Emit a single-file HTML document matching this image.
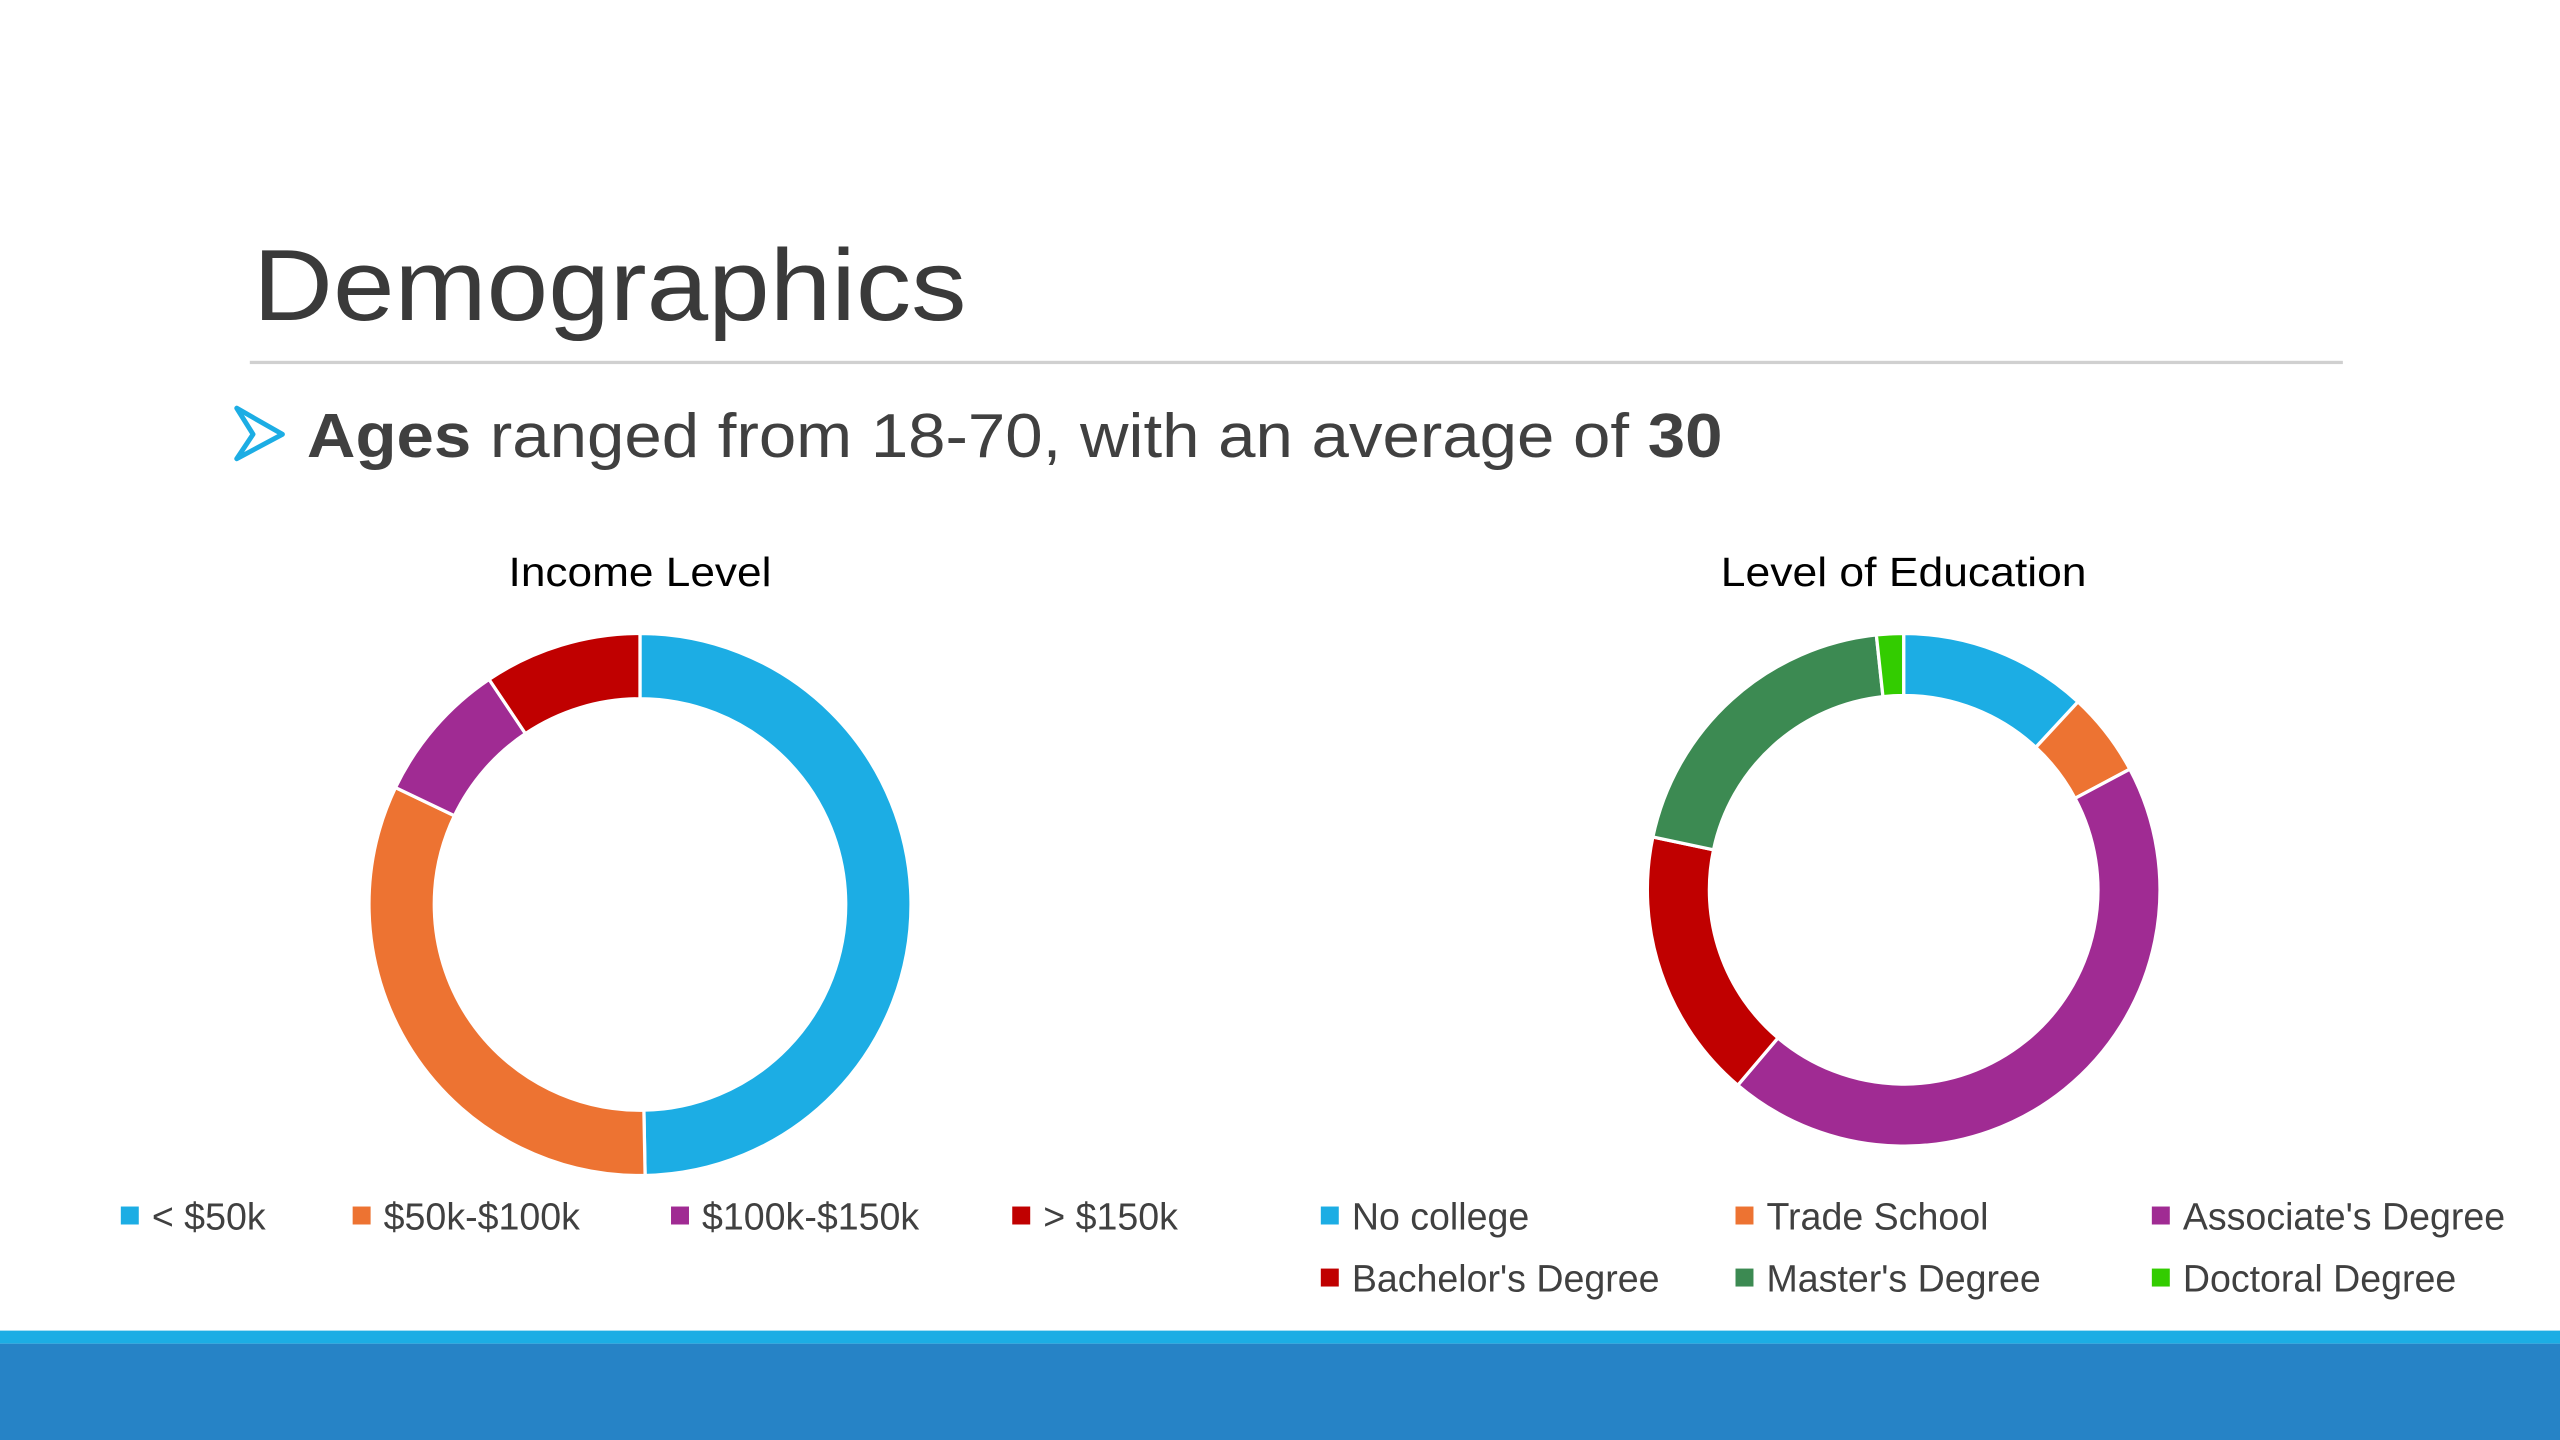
<!DOCTYPE html>
<html><head><meta charset="utf-8"><style>
html,body{margin:0;padding:0;background:#fff;width:2560px;height:1440px;overflow:hidden}
svg{display:block}
text{font-family:"Liberation Sans",sans-serif}
</style></head><body>
<svg id="s" width="2560" height="1440" viewBox="0 0 1568 882" preserveAspectRatio="none">
<text x="155" y="196" font-size="62" fill="#3a3a3a" textLength="437" lengthAdjust="spacingAndGlyphs">Demographics</text>
<rect x="153" y="221" width="1282" height="2" fill="#d0d0d0"/>
<polygon points="145,250 173,266 145,281 155,266" fill="none" stroke="#1cade4" stroke-width="3" stroke-linejoin="round"/>
<text x="188" y="280" font-size="38" fill="#404040" textLength="867" lengthAdjust="spacingAndGlyphs"><tspan font-weight="bold">Ages</tspan> ranged from 18-70, with an average of <tspan font-weight="bold">30</tspan></text>
<text x="392" y="359" font-size="25" fill="#000" text-anchor="middle" textLength="161" lengthAdjust="spacingAndGlyphs">Income Level</text>
<text x="1166" y="359" font-size="25" fill="#000" text-anchor="middle" textLength="224" lengthAdjust="spacingAndGlyphs">Level of Education</text>
<g id="income"></g><g id="edu"></g><g id="legends"></g>
<rect x="0" y="815" width="1568" height="8" fill="#1cade4"/>
<rect x="0" y="823" width="1568" height="59" fill="#2683c6"/>
</svg>
<script>
const incomeCats=["< $50k","$50k-$100k","$100k-$150k","> $150k"];
const incomeVals=[49.7,32.4,8.5,9.4];
const incomeColors=["#1cade4","#ed7332","#a02b93","#c00000"];
const eduCats=["No college","Trade School","Associate's Degree","Bachelor's Degree","Master's Degree","Doctoral Degree"];
const eduVals=[11.9,5.3,44,17.1,20,1.7];
const eduColors=["#1cade4","#ed7332","#a02b93","#c00000","#3c8a52","#33cc00"];
const NS="http://www.w3.org/2000/svg";
function donut(g,vals,colors,cats,cx,cy,ro,ri,prefix){
  const tot=vals.reduce((a,b)=>a+b,0);let a0=0;
  vals.forEach((v,i)=>{
    const a1=a0+v/tot*2*Math.PI;
    const p=(a,r)=>[cx+r*Math.sin(a),cy-r*Math.cos(a)];
    const lg=(a1-a0)>Math.PI?1:0;
    const [x1,y1]=p(a0,ro),[x2,y2]=p(a1,ro),[x3,y3]=p(a1,ri),[x4,y4]=p(a0,ri);
    const el=document.createElementNS(NS,"path");
    el.setAttribute("d",`M${x1},${y1}A${ro},${ro} 0 ${lg} 1 ${x2},${y2}L${x3},${y3}A${ri},${ri} 0 ${lg} 0 ${x4},${y4}Z`);
    el.setAttribute("fill",colors[i]);el.setAttribute("stroke","#fff");el.setAttribute("stroke-width","2");
    
    
    g.appendChild(el);a0=a1;
  });
}
donut(document.getElementById("income"),incomeVals,incomeColors,incomeCats,392,554,166,126,"income");
donut(document.getElementById("edu"),eduVals,eduColors,eduCats,1166,545,157,119,"education");
const lg=document.getElementById("legends");
function legend(cats,colors,xs,ys,prefix){
  cats.forEach((c,i)=>{
    const x=xs[i%xs.length],y=ys[Math.floor(i/xs.length)];
    const g=document.createElementNS(NS,"g");
    
    
    const r=document.createElementNS(NS,"rect");
    r.setAttribute("x",x);r.setAttribute("y",y-6);r.setAttribute("width",11);r.setAttribute("height",11);r.setAttribute("fill",colors[i]);
    
    
    const t=document.createElementNS(NS,"text");
    t.setAttribute("x",x+19);t.setAttribute("y",y+8);t.setAttribute("font-size","23");t.setAttribute("fill","#404040");
    t.textContent=c;
    
    
    g.appendChild(r);g.appendChild(t);lg.appendChild(g);
  });
}
legend(incomeCats,incomeColors,[74,216,411,620],[745],"income");
legend(eduCats,eduColors,[809,1063,1318],[745,783],"education");
</script>
</body></html>
